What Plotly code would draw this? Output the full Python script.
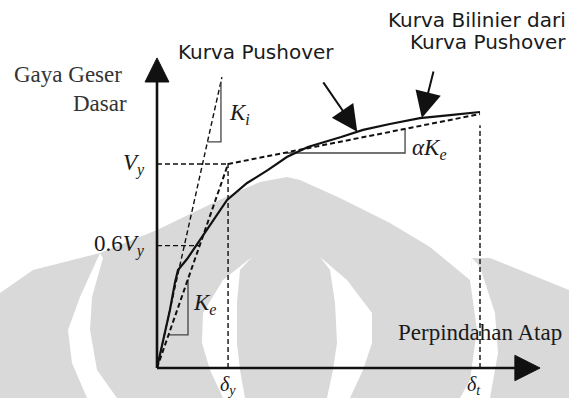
import numpy as np
import plotly.graph_objects as go

# ---- capacity curve (roof displacement / delta_t, base shear / V_y) ----
push_disp = [0.0, 0.019, 0.040, 0.056, 0.065, 0.093, 0.133, 0.173, 0.217, 0.279,
             0.344, 0.402, 0.467, 0.570, 0.638, 0.721, 0.814, 0.907, 1.0]
push_shear = [0.0, 0.137, 0.284, 0.422, 0.480, 0.534, 0.627, 0.725, 0.824, 0.907,
              0.971, 1.034, 1.083, 1.132, 1.167, 1.196, 1.225, 1.240, 1.255]

# ---- bilinear idealisation ----
delta_y = 0.22
delta_t = 1.0
V_y = 1.0
V_t = 1.245
bilin_disp = [0.0, delta_y, delta_t]
bilin_shear = [0.0, V_y, V_t]

# initial-stiffness tangent (end point)
ki_disp = [0.0, 0.201]
ki_shear = [0.0, 1.426]

frac_06 = 0.6          # 0.6 V_y level
delta_t_line_top = 1.19

K_i = ki_shear[1] / ki_disp[1]
K_e = V_y / delta_y
aK_e = (V_t - V_y) / (delta_t - delta_y)

W, H = 569, 398
X_RANGE = [-0.48607, 1.27554]
Y_RANGE = [-0.14706, 1.80392]

BLACK = "#111111"
THIN = "#444444"
GRAY = "#d9d9d9"
SERIF = "Liberation Serif"
SANS = "DejaVu Sans"
DASH = "5px,3px"

fig = go.Figure()


def line(xs, ys, width=1.5, dash=None, color=BLACK):
    fig.add_trace(go.Scatter(x=xs, y=ys, mode="lines", hoverinfo="skip",
                             showlegend=False,
                             line=dict(color=color, width=width, dash=dash)))


# reference levels
line([0, delta_y], [V_y, V_y], 1.4, DASH)
y06 = frac_06 * V_y
line([0, y06 / K_e], [y06, y06], 1.4, DASH)
line([delta_y, delta_y], [0, V_y], 1.4, DASH)
line([delta_t, delta_t], [0, delta_t_line_top], 1.4, DASH)

# initial stiffness tangent
line(ki_disp, ki_shear, 1.4, DASH)


# stiffness triangles
def triangle(x_left, x_right, y_base, slope, x0=0.0, y0=0.0):
    y_top = y0 + slope * (x_right - x0)
    line([x_left, x_right, x_right], [y_base, y_base, y_top], 1.3, None, THIN)


ki_y = 1.108
triangle(ki_y / K_i, 0.198, ki_y, K_i)
ke_y = 0.162
triangle(ke_y / K_e, 0.096, ke_y, K_e)
ak_y = 1.054
triangle(delta_y + (ak_y - V_y) / aK_e, 0.768, ak_y, aK_e, delta_y, V_y)

# bilinear curve and pushover curve
line(bilin_disp, bilin_shear, 2.0, DASH)
line(push_disp, push_shear, 2.2)

# ---- axes with arrowheads ----
shapes = []
y_base, y_tip = 1.402, 1.52
x_base, x_tip = 1.108, 1.186
hw_x, hw_y = 0.037, 0.062
shapes.append(dict(type="line", xref="x", yref="y", x0=0, y0=0, x1=0, y1=y_base,
                   line=dict(color=BLACK, width=2.6)))
shapes.append(dict(type="line", xref="x", yref="y", x0=0, y0=0, x1=x_base, y1=0,
                   line=dict(color=BLACK, width=2.6)))
shapes.append(dict(type="path", xref="x", yref="y",
                   path=f"M {-hw_x},{y_base} L 0,{y_tip} L {hw_x},{y_base} Z",
                   fillcolor=BLACK, line=dict(color=BLACK, width=1)))
shapes.append(dict(type="path", xref="x", yref="y",
                   path=f"M {x_base},{-hw_y} L {x_tip},0 L {x_base},{hw_y} Z",
                   fillcolor=BLACK, line=dict(color=BLACK, width=1)))


# ---- background emblem (light gray) ----
def ppath(pts):
    s = " L ".join(f"{x / W:.4f},{1 - y / H:.4f}" for x, y in pts)
    return "M " + s + " Z"


emblem = [(0, 293), (33, 270), (100, 253), (157, 230), (190, 214), (230, 195),
          (260, 182), (287, 177), (300, 180), (340, 198), (390, 223), (430, 247),
          (470, 280), (472, 258), (490, 258), (569, 290), (569, 398), (0, 398)]
cut1 = [(100, 253), (80, 297), (68, 330), (72, 363), (87, 398), (117, 398),
        (97, 370), (90, 330), (92, 297), (103, 258)]
cut2 = [(252, 257), (223, 280), (203, 313), (202, 343), (210, 370), (223, 398),
        (245, 398), (240, 370), (237, 343), (237, 303), (240, 270)]
cut3 = [(320, 257), (347, 280), (372, 313), (372, 343), (363, 370), (350, 398),
        (327, 398), (333, 370), (337, 343), (335, 303), (330, 270)]
cut4 = [(470, 280), (472, 258), (480, 267), (495, 313), (498, 353), (490, 398),
        (460, 398), (470, 380), (477, 330)]
bg = [dict(type="path", xref="paper", yref="paper", layer="below", path=ppath(emblem),
           fillcolor=GRAY, line=dict(width=0))]
for c in (cut1, cut2, cut3, cut4):
    bg.append(dict(type="path", xref="paper", yref="paper", layer="below",
                   path=ppath(c), fillcolor="white", line=dict(width=0)))

fig.update_layout(shapes=bg + shapes)

# ---- text ----
ann = []


def ptext(text, xp, yp, size, family, xanchor="center", color="#1a1a1a"):
    ann.append(dict(text=text, xref="paper", yref="paper", x=xp / W, y=1 - yp / H,
                    xanchor=xanchor, yanchor="middle", showarrow=False,
                    font=dict(size=size, family=family, color=color)))


def dtext(text, x, y, size, xanchor, yanchor, xshift=0, yshift=0):
    ann.append(dict(text=text, xref="x", yref="y", x=x, y=y, xanchor=xanchor,
                    yanchor=yanchor, xshift=xshift, yshift=yshift, showarrow=False,
                    font=dict(size=size, family=SERIF, color="#1a1a1a")))


ptext("Kurva Pushover", 256, 52, 20, SANS)
ptext("Kurva Bilinier dari", 568, 20, 20, SANS, "right")
ptext("Kurva Pushover", 568, 42, 20, SANS, "right")
ptext("Gaya Geser", 124, 74, 23, SERIF, "right", "#333333")
ptext("Dasar", 129, 103, 23, SERIF, "right", "#333333")
ptext("Perpindahan Atap", 564, 332, 23, SERIF, "right")
ptext("<i>K<sub>i</sub></i>", 239, 114, 23, SERIF)
ptext("<i>K<sub>e</sub></i>", 205, 304, 23, SERIF)
ptext("<i>αK<sub>e</sub></i>", 429, 149, 23, SERIF)

dtext("<i>V<sub>y</sub></i>", 0, V_y, 23, "right", "middle", xshift=-10)
dtext("0.6<i>V<sub>y</sub></i>", 0, y06, 23, "right", "middle", xshift=-10)
dtext("<i>δ<sub>y</sub></i>", delta_y, 0, 20, "center", "top", yshift=-3)
dtext("<i>δ<sub>t</sub></i>", delta_t, 0, 20, "center", "top", xshift=-6, yshift=-3)

# pointer arrows
tip1_x = 0.62
tip1_y = float(np.interp(tip1_x, push_disp, push_shear))
tip2_x = 0.82
tip2_y = float(np.interp(tip2_x, push_disp, push_shear))
for tx, ty, ax, ay in ((tip1_x, tip1_y, -35, -51), (tip2_x, tip2_y, 12, -48)):
    ann.append(dict(x=tx, y=ty, xref="x", yref="y", ax=ax, ay=ay, text="",
                    showarrow=True, arrowhead=2, arrowsize=2.6, arrowwidth=2,
                    arrowcolor=BLACK))

fig.update_layout(
    annotations=ann,
    width=W, height=H, autosize=False,
    margin=dict(l=0, r=0, t=0, b=0, pad=0),
    paper_bgcolor="white", plot_bgcolor="white",
    xaxis=dict(range=X_RANGE, visible=False, fixedrange=True),
    yaxis=dict(range=Y_RANGE, visible=False, fixedrange=True),
    showlegend=False,
)

fig.write_html("out.html")
